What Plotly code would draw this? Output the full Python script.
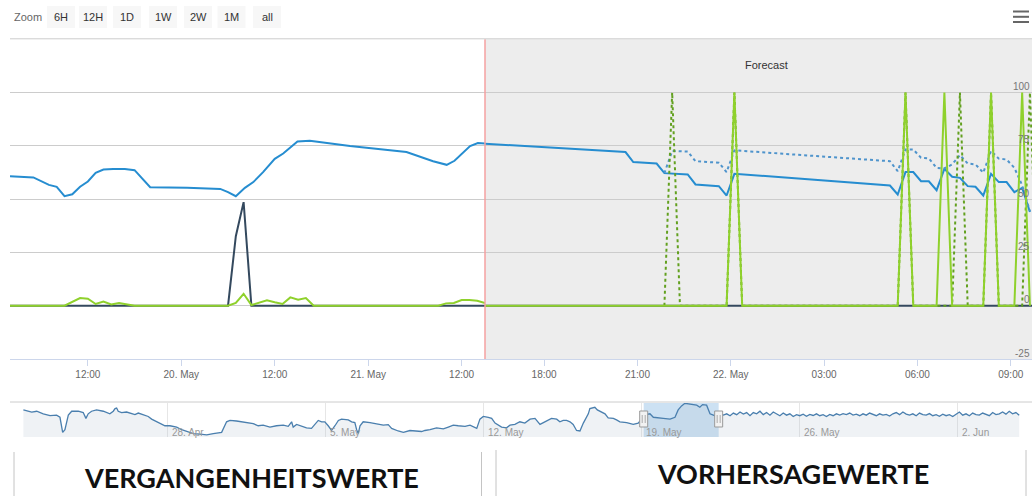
import plotly.graph_objects as go
import pandas as pd

W, H = 1032, 496

# ---------------- data ----------------
# past (measured) values
past_times = ["2025-05-19 02:00", "2025-05-19 05:00", "2025-05-19 07:00", "2025-05-19 08:00",
              "2025-05-19 09:00", "2025-05-19 10:00", "2025-05-19 11:00", "2025-05-19 12:00",
              "2025-05-19 13:00", "2025-05-19 14:00", "2025-05-19 15:15", "2025-05-19 16:45",
              "2025-05-19 18:00", "2025-05-19 20:00", "2025-05-20 00:45", "2025-05-20 05:00",
              "2025-05-20 06:00", "2025-05-20 07:00", "2025-05-20 08:10", "2025-05-20 09:15",
              "2025-05-20 10:30", "2025-05-20 12:00", "2025-05-20 13:05", "2025-05-20 14:55",
              "2025-05-20 16:30", "2025-05-20 21:40", "2025-05-21 04:55", "2025-05-21 08:20",
              "2025-05-21 10:05", "2025-05-21 11:05", "2025-05-21 13:05", "2025-05-21 14:05",
              "2025-05-21 15:00"]
past_level = [60.8, 60.2, 56.7, 55.8, 51.4, 52.3, 55.8, 58.3, 62.4, 63.9, 64.2, 64.1, 63.6, 55.6,
              55.3, 54.8, 53.3, 51.4, 55.3, 58.0, 62.7, 68.9, 71.4, 77.1, 77.4, 74.9, 72.1, 67.8,
              66.1, 68.0, 74.9, 76.3, 76.1]

past_green_times = ["2025-05-19 02:00", "2025-05-19 09:00", "2025-05-19 11:00", "2025-05-19 12:00",
                    "2025-05-19 13:00", "2025-05-19 14:00", "2025-05-19 15:00", "2025-05-19 16:00",
                    "2025-05-19 18:00", "2025-05-20 06:00", "2025-05-20 07:00", "2025-05-20 08:00",
                    "2025-05-20 09:00", "2025-05-20 10:00", "2025-05-20 11:00", "2025-05-20 12:00",
                    "2025-05-20 13:00", "2025-05-20 14:00", "2025-05-20 15:00", "2025-05-20 16:00",
                    "2025-05-20 17:00", "2025-05-21 09:00", "2025-05-21 10:00", "2025-05-21 11:00",
                    "2025-05-21 12:00", "2025-05-21 13:00", "2025-05-21 14:00", "2025-05-21 15:00"]
past_green = [0, 0, 3.6, 3.3, 0.8, 2.0, 0.6, 1.3, 0, 0, 1.3, 5.6, 0.3, 1.5, 2.5, 1.6, 0.8, 3.9,
              2.8, 3.6, 0, 0, 1.1, 1.3, 2.7, 2.7, 2.3, 1.3]

past_dark_times = ["2025-05-19 02:00", "2025-05-20 06:00", "2025-05-20 07:00", "2025-05-20 08:00",
                   "2025-05-20 09:00", "2025-05-21 15:00"]
past_dark = [0, 0, 32.6, 48.6, 0, 0]

# forecast values
fc_times = ["2025-05-21 16:00", "2025-05-21 20:37", "2025-05-21 20:52", "2025-05-21 21:37",
            "2025-05-21 21:52", "2025-05-21 22:37", "2025-05-21 22:52", "2025-05-21 23:37",
            "2025-05-21 23:52", "2025-05-22 00:07", "2025-05-22 05:07", "2025-05-22 05:22",
            "2025-05-22 05:37", "2025-05-22 05:52", "2025-05-22 06:07", "2025-05-22 06:22",
            "2025-05-22 06:37", "2025-05-22 06:52", "2025-05-22 07:07", "2025-05-22 07:22",
            "2025-05-22 07:37", "2025-05-22 07:52", "2025-05-22 08:07", "2025-05-22 08:22",
            "2025-05-22 08:37", "2025-05-22 08:52", "2025-05-22 09:07", "2025-05-22 09:22",
            "2025-05-22 09:37"]
fc_level = [76.1, 72.1, 67.4, 66.7, 62.2, 61.6, 56.9, 56.1, 51.7, 61.9, 56.4, 52.2, 62.7, 62.7,
            58.4, 58.4, 54.2, 64.2, 60.5, 60.0, 56.1, 55.8, 51.7, 61.9, 58.0, 58.0, 53.3, 55.3, 44.0]

fc_alt_times = ["2025-05-21 21:52", "2025-05-21 22:07", "2025-05-21 22:37", "2025-05-21 22:52",
                "2025-05-21 23:37", "2025-05-21 23:52", "2025-05-22 00:07", "2025-05-22 05:07",
                "2025-05-22 05:22", "2025-05-22 05:37", "2025-05-22 05:52", "2025-05-22 06:07",
                "2025-05-22 06:22", "2025-05-22 06:37", "2025-05-22 06:52", "2025-05-22 07:07",
                "2025-05-22 07:22", "2025-05-22 07:37", "2025-05-22 07:52", "2025-05-22 08:07",
                "2025-05-22 08:22", "2025-05-22 08:37", "2025-05-22 08:52", "2025-05-22 09:07",
                "2025-05-22 09:22", "2025-05-22 09:37"]
fc_alt_level = [62.2, 72.6, 72.3, 67.8, 67.1, 62.7, 72.9, 67.8, 63.1, 73.3, 73.3, 69.4, 69.1, 64.7,
                64.4, 66.3, 70.7, 66.7, 66.3, 62.4, 72.6, 69.0, 68.6, 64.7, 56.5, 44.3]

fc_green_times = ["2025-05-21 16:00", "2025-05-21 23:52", "2025-05-22 00:07", "2025-05-22 00:22",
                  "2025-05-22 05:22", "2025-05-22 05:37", "2025-05-22 05:52", "2025-05-22 06:37",
                  "2025-05-22 06:52", "2025-05-22 07:07", "2025-05-22 08:07", "2025-05-22 08:22",
                  "2025-05-22 08:37", "2025-05-22 09:07", "2025-05-22 09:22", "2025-05-22 09:37"]
fc_green = [0, 0, 100, 0, 0, 100, 0, 0, 100, 0, 0, 100, 0, 0, 100, 0]

fc_green_alt_times = ["2025-05-21 21:52", "2025-05-21 22:07", "2025-05-21 22:22", "2025-05-21 23:52",
                      "2025-05-22 00:07", "2025-05-22 00:22", "2025-05-22 05:22", "2025-05-22 05:37",
                      "2025-05-22 05:52", "2025-05-22 07:07", "2025-05-22 07:22", "2025-05-22 07:37",
                      "2025-05-22 08:07", "2025-05-22 08:22", "2025-05-22 08:37", "2025-05-22 09:22",
                      "2025-05-22 09:37", "2025-05-22 09:52"]
fc_green_alt = [0, 100, 0, 0, 100, 0, 0, 100, 0, 0, 100, 0, 0, 100, 0, 0, 100, 0]

fc_dark_times = ["2025-05-21 16:00", "2025-05-22 10:00"]
fc_dark = [0, 0]

# navigator series: days after 28 Apr, value
nav_base = "2025-04-28"
nav_days = [-6.39, -6.02, -5.80, -5.51, -5.21, -4.92, -4.77, -4.65, -4.55, -4.40, -4.25, -3.96, -3.74,
            -3.62, -3.52, -3.37, -3.15, -2.85, -2.56, -2.41, -2.33, -2.26, -2.19, -2.04, -1.82, -1.60,
            -1.45, -1.30, -1.08, -0.86, -0.71, -0.49, -0.27, -0.12, 0.10, 0.40, 0.62, 0.91, 1.14, 1.43,
            1.73, 2.02, 2.32, 2.39, 2.61, 2.76, 3.05, 3.35, 3.57, 3.79, 4.01, 4.23, 4.53, 4.82, 5.12,
            5.34, 5.49, 5.56, 5.71, 5.86, 6.00, 6.15, 6.37, 6.52, 6.67, 6.82, 6.96, 7.11, 7.26, 7.41,
            7.56, 7.70, 8.00, 8.15, 8.29, 8.37, 8.44, 8.52, 8.66, 8.96, 9.25, 9.55, 9.77, 9.92, 10.21,
            10.44, 10.73, 11.02, 11.25, 11.39, 11.62, 11.91, 12.21, 12.43, 12.65, 12.87, 13.17, 13.39,
            13.54, 13.69, 13.83, 13.98, 14.20, 14.35, 14.50, 14.64, 14.79, 15.01,
            15.16, 15.38, 15.60, 15.82, 16.05, 16.27, 16.49, 16.64, 16.86, 17.00, 17.23, 17.37, 17.52,
            17.67, 17.82, 17.96, 18.11, 18.26, 18.41, 18.63, 18.70, 18.92, 19.03, 19.15, 19.37, 19.51,
            19.74, 19.88, 20.03, 20.33, 20.62, 20.84, 20.99, 21.06, 21.36, 21.51, 21.66, 21.95, 22.25,
            22.47, 22.61, 22.76, 22.91, 23.21, 23.43, 23.57, 23.69, 23.87, 24.02, 24.17, 24.31, 24.46,
            24.61]
nav_vals = [66.0, 62.5, 63.8, 59.5, 56.4, 57.3, 53.8, 28.8, 33.1, 57.3, 63.8, 63.8, 61.6, 52.0, 59.5,
            63.8, 66.0, 63.8, 59.5, 63.8, 68.2, 69.1, 63.8, 61.6, 62.5, 59.5, 58.1, 60.8, 58.1, 55.1,
            50.7, 46.3, 41.9, 39.7, 39.7, 37.5, 33.1, 28.8, 26.6, 25.7, 24.4, 26.6, 27.4, 28.8, 46.3,
            48.5, 47.6, 46.3, 44.1, 43.2, 39.7, 40.6, 37.5, 39.7, 40.6, 38.8, 46.3, 37.5, 41.9, 39.7,
            38.4, 36.2, 35.3, 41.9, 48.5, 46.3, 46.3, 39.7, 31.8, 39.7, 48.5, 50.7, 49.4, 46.3, 45.0,
            33.1, 26.6, 39.7, 46.3, 45.0, 43.2, 40.6, 41.5, 35.3, 31.0, 28.8, 31.8, 31.0, 30.1, 31.8,
            33.1, 36.2, 34.5, 37.5, 40.6, 39.7, 38.8, 40.6, 37.5, 35.3, 50.7, 55.1, 53.8, 52.0, 44.1,
            40.6, 37.5, 36.2,
            40.6, 41.9, 46.3, 44.1, 50.7, 52.0, 41.9, 45.0, 48.5, 52.0, 50.7, 46.3, 48.5, 48.5, 46.3,
            41.9, 31.8, 31.0, 44.1, 59.5, 68.2, 70.4, 66.0, 63.8, 59.5, 52.9, 52.0, 49.4, 46.3, 45.0,
            41.9, 44.1, 50.7, 57.3, 59.5, 53.8, 52.9, 52.0, 50.7, 53.8, 66.0, 72.6, 77.0, 75.7, 73.9,
            70.4, 74.8, 73.9, 59.5, 57.3, 55.1, 59.5, 57.3]
# later part of the navigator, sampled every ~3.5 h from 22 May 18:15
nav_tail_start = "2025-05-22 18:15"
nav_tail_vals = [59.5, 56.4, 60.8, 58.1, 62.5, 59.0, 61.6, 56.4, 61.6, 59.5,
                 63.8, 58.1, 61.6, 57.3, 62.5, 59.5, 56.4, 60.8, 57.3, 59.5,
                 55.1, 58.1, 56.4, 59.0, 55.5, 58.6, 56.8, 59.5, 56.4, 58.1,
                 55.1, 58.6, 56.4, 59.5, 57.3, 59.9, 58.1, 60.8, 57.3, 59.0,
                 56.4, 59.5, 57.3, 60.8, 58.1, 56.4, 59.5, 57.3, 58.6, 55.9,
                 59.5, 61.6, 58.1, 62.5, 59.0, 57.3, 59.5, 56.4, 60.8, 58.1,
                 57.3, 59.9, 56.4, 58.1, 55.5, 59.0, 56.4, 58.1, 55.1, 58.6,
                 62.5, 57.3, 59.5, 56.4, 60.8, 58.1, 57.3, 60.8, 58.1, 56.4,
                 61.6, 58.1, 59.5, 62.5, 59.0, 63.8, 59.5, 61.6, 57.3]

# axis / label data
past_start, past_end = "2025-05-19 02:00", "2025-05-21 15:00"
fc_start, fc_end = "2025-05-21 16:06", "2025-05-22 09:41"
past_ticks = ["2025-05-19 12:00", "2025-05-20 00:00", "2025-05-20 12:00", "2025-05-21 00:00", "2025-05-21 12:00"]
past_ticklabels = ["12:00", "20. May", "12:00", "21. May", "12:00"]
fc_ticks = ["2025-05-21 18:00", "2025-05-21 21:00", "2025-05-22 00:00", "2025-05-22 03:00",
            "2025-05-22 06:00", "2025-05-22 09:00"]
fc_ticklabels = ["18:00", "21:00", "22. May", "03:00", "06:00", "09:00"]
y_ticks = [100, 75, 50, 25, 0, -25]
nav_ticks = ["2025-04-28", "2025-05-05", "2025-05-12", "2025-05-19", "2025-05-26", "2025-06-02"]
nav_ticklabels = ["28. Apr", "5. May", "12. May", "19. May", "26. May", "2. Jun"]
nav_range = ["2025-04-21 13:10", "2025-06-04 18:00"]
zoom_buttons = ["6H", "12H", "1D", "1W", "2W", "1M", "all"]
panel_titles = ["VERGANGENHEITSWERTE", "VORHERSAGEWERTE"]

# colours
C_BLUE = "#268dd0"
C_BLUE_ALT = "#4f94cc"
C_GREEN = "#8fd12c"
C_GREEN_ALT = "#62a01f"
C_DARK = "#34495e"
C_NAV = "#4a7fae"


def px(x):
    return x / W


def py(y):
    return 1 - y / H


# ---------------- figure ----------------
fig = go.Figure()


def line(x, y, xa, ya, color, width=2, dash=None, **kw):
    fig.add_trace(go.Scatter(x=pd.to_datetime(x), y=y, xaxis=xa, yaxis=ya, mode="lines",
                             line=dict(color=color, width=width, dash=dash), hoverinfo="skip", **kw))


line(past_times, past_level, "x", "y", C_BLUE)
line(past_dark_times, past_dark, "x", "y", C_DARK)
line(past_green_times, past_green, "x", "y", C_GREEN)

line(fc_times, fc_level, "x2", "y", C_BLUE)
line(fc_alt_times, fc_alt_level, "x2", "y", C_BLUE_ALT, dash="dot")
line(fc_dark_times, fc_dark, "x2", "y", C_DARK)
line(fc_green_alt_times, fc_green_alt, "x2", "y", C_GREEN_ALT, dash="dot")
line(fc_green_times, fc_green, "x2", "y", C_GREEN)

nav_x = list(pd.Timestamp(nav_base) + pd.to_timedelta(nav_days, unit="D"))
nav_x += list(pd.date_range(nav_tail_start, periods=len(nav_tail_vals), freq="212min"))
nav_y = nav_vals + nav_tail_vals
fig.add_trace(go.Scatter(x=nav_x, y=nav_y, xaxis="x3", yaxis="y3", mode="lines",
                         line=dict(color=C_NAV, width=1.3), fill="tozeroy",
                         fillcolor="rgba(175,188,205,0.2)", hoverinfo="skip"))

tickfont = dict(family="Liberation Sans, Arial, sans-serif", size=10, color="#666666")
xcommon = dict(type="date", anchor="y", showgrid=False, showline=True, linecolor="#ccd6eb",
               linewidth=1, ticks="outside", ticklen=6, tickcolor="#ccd6eb", tickfont=tickfont,
               zeroline=False, fixedrange=True)

fig.update_layout(
    width=W, height=H, margin=dict(l=0, r=0, t=0, b=0),
    paper_bgcolor="white", plot_bgcolor="rgba(0,0,0,0)", showlegend=False,
    font=dict(family="Liberation Sans, Arial, sans-serif", size=11, color="#333333"),
    xaxis=dict(domain=[px(10), px(485)], range=[past_start, past_end],
               tickvals=past_ticks, ticktext=past_ticklabels, **xcommon),
    xaxis2=dict(domain=[px(485), 1.0], range=[fc_start, fc_end],
                tickvals=fc_ticks, ticktext=fc_ticklabels, **xcommon),
    yaxis=dict(domain=[py(359), py(39.3)], range=[-25, 125], tick0=0, dtick=25, showgrid=True,
               gridcolor="#cccccc", gridwidth=1, showticklabels=False, ticks="", zeroline=False,
               showline=False, fixedrange=True),
    xaxis3=dict(type="date", domain=[px(22), px(1020)], range=nav_range, anchor="y3",
                showgrid=True, gridcolor="#e6e6e6", tickvals=nav_ticks, showticklabels=False,
                ticks="", showline=False, zeroline=False, fixedrange=True),
    yaxis3=dict(domain=[py(437), py(403)], range=[21, 77.5], anchor="x3", visible=False,
                fixedrange=True),
)

shapes = []
# forecast band and "now" line
shapes.append(dict(type="rect", xref="x2 domain", yref="y domain", x0=0, x1=1, y0=0, y1=1,
                   fillcolor="#ededed", line=dict(width=0), layer="below"))
shapes.append(dict(type="line", xref="x2 domain", yref="y domain", x0=0, x1=0, y0=0, y1=1,
                   line=dict(color="#f5a0a0", width=1.5), layer="above"))
# top border of plot and navigator separator
shapes.append(dict(type="line", xref="paper", yref="paper", x0=px(10), x1=1, y0=py(38.8), y1=py(38.8),
                   line=dict(color="#cccccc", width=1)))
shapes.append(dict(type="line", xref="paper", yref="paper", x0=px(10), x1=1, y0=py(402), y1=py(402),
                   line=dict(color="#cccccc", width=1)))
# navigator mask (visible range of the main chart)
shapes.append(dict(type="rect", xref="x3", yref="y3 domain", x0=past_start, x1=fc_end, y0=0, y1=1,
                   fillcolor="rgba(110,168,222,0.35)", line=dict(width=0), layer="below"))
for edge in [past_start, fc_end]:
    shapes.append(dict(type="rect", xref="x3", xsizemode="pixel", xanchor=edge, x0=-4, x1=4,
                       yref="paper", y0=py(427), y1=py(411), fillcolor="#f2f2f2",
                       line=dict(color="#999999", width=1), layer="above"))
    for dx in (-1.5, 1.5):
        shapes.append(dict(type="line", xref="x3", xsizemode="pixel", xanchor=edge, x0=dx, x1=dx,
                           yref="paper", y0=py(423), y1=py(415),
                           line=dict(color="#aaaaaa", width=1), layer="above"))
# zoom buttons
btn_centers = [61, 93, 127, 163, 198, 231.5, 267]
for c in btn_centers:
    shapes.append(dict(type="rect", xref="paper", yref="paper", x0=px(c - 14), x1=px(c + 14),
                       y0=py(28), y1=py(6), fillcolor="#f7f7f7", line=dict(width=0)))
# hamburger menu
for yy in (11.5, 16.8, 22):
    shapes.append(dict(type="line", xref="paper", yref="paper", x0=px(1013), x1=px(1029),
                       y0=py(yy), y1=py(yy), line=dict(color="#666666", width=2)))
# bottom panels
for xx, y0 in ((14, 452), (481.5, 452), (496, 450), (1026, 450)):
    shapes.append(dict(type="line", xref="paper", yref="paper", x0=px(xx), x1=px(xx),
                       y0=py(y0), y1=0, line=dict(color="#c4c4c4", width=1)))
fig.update_layout(shapes=shapes)

ann = []
ann.append(dict(text="Zoom", xref="paper", yref="paper", x=px(11.5), y=py(17), xanchor="left",
                yanchor="middle", showarrow=False, font=dict(size=11, color="#666666")))
for c, t in zip(btn_centers, zoom_buttons):
    ann.append(dict(text=t, xref="paper", yref="paper", x=px(c), y=py(17), xanchor="center",
                    yanchor="middle", showarrow=False, font=dict(size=11, color="#333333")))
ann.append(dict(text="Forecast", xref="x2 domain", yref="paper", x=0.514, y=py(65),
                xanchor="center", yanchor="middle", showarrow=False,
                font=dict(size=11, color="#333333")))
for v in y_ticks:
    ann.append(dict(text=str(v), xref="paper", yref="y", x=1, y=v, xanchor="right",
                    yanchor="middle", yshift=6, xshift=0, showarrow=False,
                    font=dict(size=10, color="#777777")))
for d, t in zip(nav_ticks, nav_ticklabels):
    ann.append(dict(text=t, xref="x3", yref="paper", x=d, y=py(432), xanchor="left",
                    yanchor="middle", xshift=2, showarrow=False,
                    font=dict(size=10, color="#999999")))
ann.append(dict(text="<b>" + panel_titles[0] + "</b>", xref="paper", yref="paper", x=px(251),
                y=py(477), xanchor="center", yanchor="middle", showarrow=False,
                font=dict(family="Lato, sans-serif", size=27, color="#111111")))
ann.append(dict(text="<b>" + panel_titles[1] + "</b>", xref="paper", yref="paper", x=px(793),
                y=py(473), xanchor="center", yanchor="middle", showarrow=False,
                font=dict(family="Lato, sans-serif", size=27, color="#111111")))
fig.update_layout(annotations=ann)

fig.write_html("out.html", config={"displayModeBar": False},
               post_script="document.body.style.margin='0';document.body.style.overflow='hidden';")
